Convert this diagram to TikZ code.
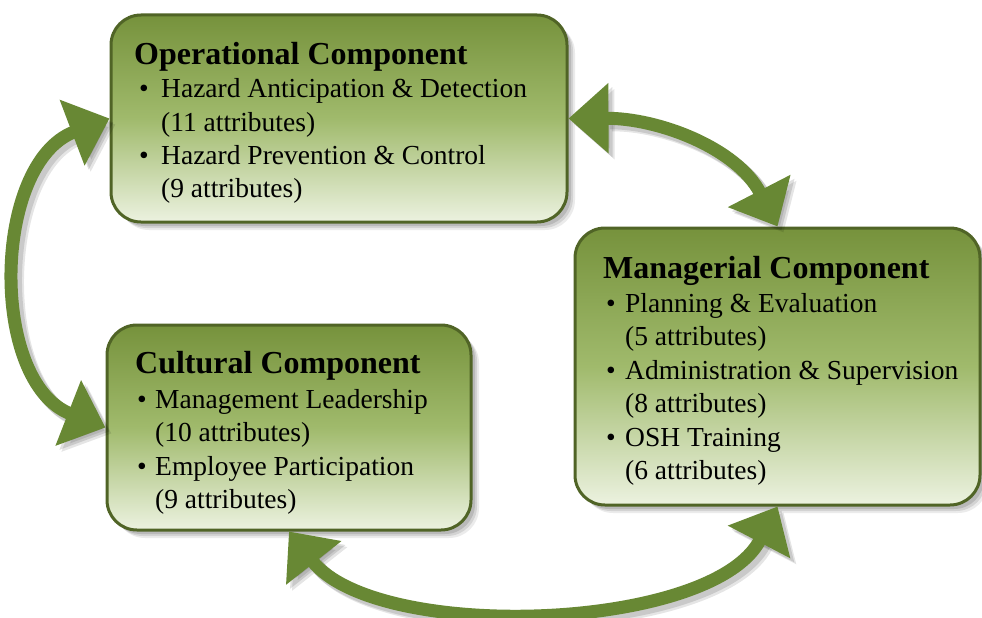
\documentclass[tikz,border=0pt]{standalone}
\usepackage{fontspec}
\setmainfont{Liberation Serif}
\usetikzlibrary{arrows.meta,shadows}
\definecolor{boxtop}{RGB}{118,146,60}
\definecolor{boxmid}{RGB}{160,186,108}
\definecolor{boxbot}{RGB}{236,242,224}
\definecolor{boxline}{RGB}{80,100,38}
\definecolor{arrcol}{RGB}{104,136,52}
\tikzset{
  compbox/.style={rectangle, rounded corners=30pt, draw=boxline, line width=3pt,
    top color=boxtop, bottom color=boxbot, middle color=boxmid, inner sep=0pt,
    drop shadow={shadow xshift=4pt, shadow yshift=-4pt, opacity=.12, fill=black},
    drop shadow={shadow xshift=6pt, shadow yshift=-6pt, opacity=.10, fill=black},
    drop shadow={shadow xshift=8pt, shadow yshift=-8pt, opacity=.08, fill=black}},
  ttl/.style={anchor=base west, inner sep=0pt, font=\bfseries\fontsize{32}{38}\selectfont},
  txt/.style={anchor=base west, inner sep=0pt, font=\fontsize{27.5}{33}\selectfont},
  bigarr/.style={line width=13pt, draw=arrcol,
    arrows={Triangle[length=40pt,width=68pt]-Triangle[length=40pt,width=68pt]}},
  arrshade/.style={line width=14pt, draw=black, opacity=#1,
    arrows={Triangle[length=40pt,width=68pt]-Triangle[length=40pt,width=68pt]}},
}
\begin{document}
\begin{tikzpicture}[x=1pt,y=-1pt]
\fill[white] (0,0) rectangle (982,618);
\useasboundingbox (0,0) rectangle (982,618);

% boxes
\node[compbox, minimum width=456pt, minimum height=207pt] (op) at (339,118.5) {};
\node[compbox, minimum width=405pt, minimum height=277pt] (mg) at (777.5,366.5) {};
\node[compbox, minimum width=364pt, minimum height=205pt] (cul) at (289,427.5) {};

% operational text
\node[ttl] (opt) at (134,64) {Operational Component};
\node[txt] (opb1) at (139,97) {•};
\node[txt] (op1) at (161,97) {Hazard Anticipation \& Detection};
\node[txt] (op2) at (161,131) {(11 attributes)};
\node[txt] (opb2) at (139,164) {•};
\node[txt] (op3) at (161,164) {Hazard Prevention \& Control};
\node[txt] (op4) at (161,197) {(9 attributes)};

% managerial text
\node[ttl] (mgt) at (603,278) {Managerial Component};
\node[txt] (mgb1) at (606,312) {•};
\node[txt] (mg1) at (625,312) {Planning \& Evaluation};
\node[txt] (mg2) at (625,345) {(5 attributes)};
\node[txt] (mgb2) at (606,379) {•};
\node[txt] (mg3) at (625,379) {Administration \& Supervision};
\node[txt] (mg4) at (625,412) {(8 attributes)};
\node[txt] (mgb3) at (606,446) {•};
\node[txt] (mg5) at (625,446) {OSH Training};
\node[txt] (mg6) at (625,479) {(6 attributes)};

% cultural text
\node[ttl] (cult) at (135,373) {Cultural Component};
\node[txt] (culb1) at (137,408) {•};
\node[txt] (cul1) at (155,408) {Management Leadership};
\node[txt] (cul2) at (155,441) {(10 attributes)};
\node[txt] (culb2) at (137,475) {•};
\node[txt] (cul3) at (155,475) {Employee Participation};
\node[txt] (cul4) at (155,508) {(9 attributes)};

% arrow shadows
\begin{scope}[transform canvas={shift={(6pt,-6pt)}}]
\draw[arrshade=.10] (op.west) .. controls (-8,163) and (-11,382) .. (cul.west);
\draw[arrshade=.10] (op.east) .. controls (658,118) and (737,148) .. (mg.north);
\draw[arrshade=.10] (cul.south) .. controls (377,643) and (712,632) .. (mg.south);
\end{scope}
\begin{scope}[transform canvas={shift={(4pt,-4pt)}}]
\draw[arrshade=.12] (op.west) .. controls (-8,163) and (-11,382) .. (cul.west);
\draw[arrshade=.12] (op.east) .. controls (658,118) and (737,148) .. (mg.north);
\draw[arrshade=.12] (cul.south) .. controls (377,643) and (712,632) .. (mg.south);
\end{scope}

% arrows
\draw[bigarr] (op.west) .. controls (-8,163) and (-11,382) .. (cul.west);
\draw[bigarr] (op.east) .. controls (658,118) and (737,148) .. (mg.north);
\draw[bigarr] (cul.south) .. controls (377,643) and (712,632) .. (mg.south);
\end{tikzpicture}
\end{document}
